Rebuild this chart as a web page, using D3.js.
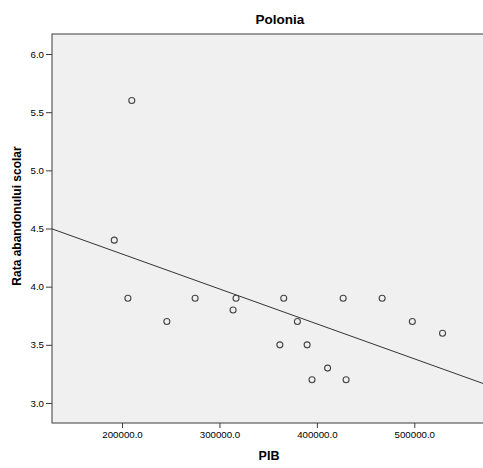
<!DOCTYPE html>
<html>
<head>
<meta charset="utf-8">
<script src="https://cdn.jsdelivr.net/npm/d3@7"></script>
<style>
  body { margin: 0; background: #fff; }
  text { font-family: "Liberation Sans", Arial, sans-serif; fill: #000; }
</style>
</head>
<body>
<div id="chart"></div>
<script>
// values
var pib = [210000, 192000, 206000, 275000, 317000, 314000, 246000, 366000, 427000,
           467000, 380000, 498000, 529000, 362000, 390000, 411000, 395000, 430000];
var abandon = [5.6, 4.4, 3.9, 3.9, 3.9, 3.8, 3.7, 3.9, 3.9,
               3.9, 3.7, 3.7, 3.6, 3.5, 3.5, 3.3, 3.2, 3.2];
var xTicks = [200000, 300000, 400000, 500000];
var yTicks = [3.0, 3.5, 4.0, 4.5, 5.0, 5.5, 6.0];

var W = 483, H = 468;
var margin = {top: 34, right: -40, bottom: 45, left: 52},
    width = W - margin.left - margin.right,
    height = H - margin.top - margin.bottom;

var svg = d3.select("#chart")
  .append("svg")
    .attr("width", W)
    .attr("height", H);

var g = svg.append("g")
  .attr("transform", "translate(" + margin.left + "," + margin.top + ")");

var x = d3.scaleLinear()
  .domain([128100, 611600])
  .range([0, width]);

var y = d3.scaleLinear()
  .domain([2.828, 6.172])
  .range([height, 0]);

// plot background
g.append("rect")
  .attr("width", width)
  .attr("height", height)
  .attr("fill", "#f0f0f0")
  .attr("stroke", "#3c3c3c")
  .attr("stroke-width", 1);

// axes
var xAxis = g.append("g")
  .attr("transform", "translate(0," + height + ")")
  .call(d3.axisBottom(x).tickValues(xTicks).tickFormat(d3.format(".1f")).tickSize(5).tickPadding(3));
var yAxis = g.append("g")
  .call(d3.axisLeft(y).tickValues(yTicks).tickFormat(d3.format(".1f")).tickSize(6).tickPadding(2));

[xAxis, yAxis].forEach(function(a) {
  a.select(".domain").remove();
  a.selectAll("line").attr("stroke", "#3c3c3c");
  a.selectAll("text").style("font-size", "9.7px").attr("fill", "#222");
});

// least squares fit line
var mx = d3.mean(pib), my = d3.mean(abandon);
var sxy = d3.sum(pib, function(d, i) { return (d - mx) * (abandon[i] - my); });
var sxx = d3.sum(pib, function(d) { return (d - mx) * (d - mx); });
var slope = sxy / sxx, icpt = my - slope * mx;
var xs = x.domain();

var clip = g.append("clipPath").attr("id", "clip")
  .append("rect").attr("width", width).attr("height", height);

g.append("path")
  .datum(xs)
  .attr("clip-path", "url(#clip)")
  .attr("fill", "none")
  .attr("stroke", "#333")
  .attr("stroke-width", 1)
  .attr("d", d3.line()
    .x(function(d) { return x(d); })
    .y(function(d) { return y(icpt + slope * d); }));

// points
g.selectAll("circle")
  .data(pib)
  .enter()
  .append("circle")
    .attr("cx", function(d) { return x(d); })
    .attr("cy", function(d, i) { return y(abandon[i]); })
    .attr("r", 3)
    .attr("fill", "none")
    .attr("stroke", "#444")
    .attr("stroke-width", 1.1);

// titles
svg.append("text")
  .attr("x", 280)
  .attr("y", 24)
  .attr("text-anchor", "middle")
  .style("font-size", "13.5px")
  .style("font-weight", "bold")
  .text("Polonia");

svg.append("text")
  .attr("x", 269)
  .attr("y", 460)
  .attr("text-anchor", "middle")
  .style("font-size", "12.5px")
  .style("font-weight", "bold")
  .text("PIB");

svg.append("text")
  .attr("transform", "translate(21,216)rotate(-90)")
  .attr("text-anchor", "middle")
  .style("font-size", "12px")
  .style("font-weight", "bold")
  .text("Rata abandonului scolar");
</script>
</body>
</html>
